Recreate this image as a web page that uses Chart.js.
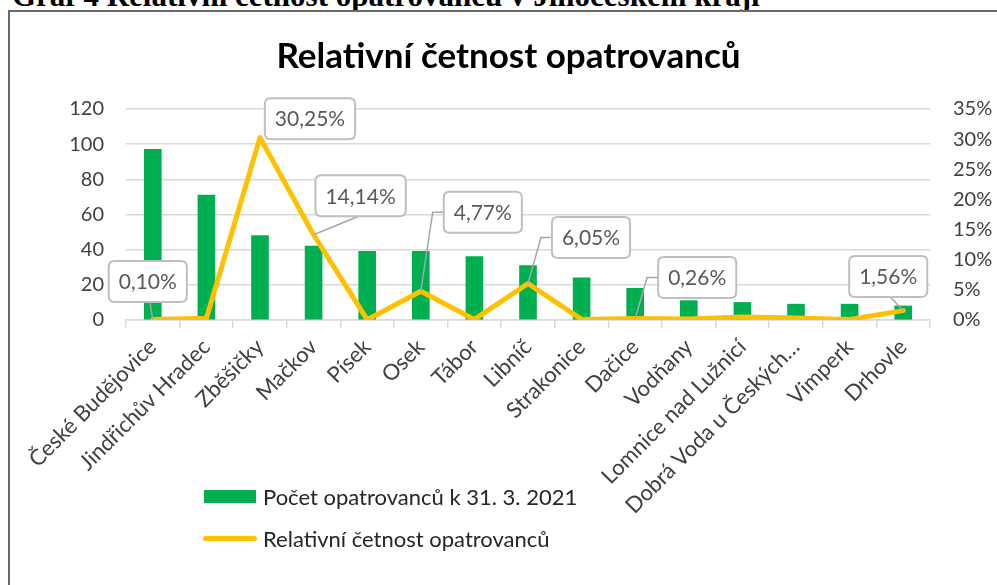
<!DOCTYPE html>
<html lang="cs">
<head>
<meta charset="utf-8">
<script src="https://cdn.jsdelivr.net/npm/chart.js@4.4.1/dist/chart.umd.min.js"></script>
<style>
    html, body { margin: 0; padding: 0; background: #fff; }
    #wrap { position: relative; width: 997px; height: 585px; overflow: hidden; }
    #caption {
        position: absolute; left: 12px; top: -22px; white-space: nowrap; line-height: normal;
        font: bold 31px "Liberation Serif", "DejaVu Serif", serif; color: #000;
    }
    #frame {
        position: absolute; left: 8px; top: 10px; width: 1100px; height: 700px;
        border: 2px solid #6a6a6a; box-sizing: border-box; background: #fff;
    }
    canvas { position: absolute; left: 0; top: 0; }
    .legend { position: absolute; left: 202px; font: 22px Lato, sans-serif; color: #262626; }
    .legend .item { display: flex; align-items: center; height: 42px; }
    .legend .swatch { width: 56px; display: flex; justify-content: center; margin-right: 5px; }
    .legend .bar { width: 52px; height: 13px; background: #00b050; }
    .legend .line { width: 54px; height: 5px; border-radius: 3px; background: #ffc000; }
</style>
</head>
<body>
<div id="wrap">
    <div id="caption">Graf 4 Relativní četnost opatrovanců v Jihočeském kraji</div>
    <div id="frame"></div>
    <canvas id="chart" width="997" height="585"></canvas>
    <div class="legend" style="top: 475px;">
        <div class="item"><div class="swatch"><div class="bar"></div></div><span id="lg0"></span></div>
        <div class="item"><div class="swatch"><div class="line"></div></div><span id="lg1"></span></div>
    </div>
</div>
<script>
// Categories (municipalities)
const towns = [
    'České Budějovice', 'Jindřichův Hradec', 'Zběšičky', 'Mačkov', 'Písek', 'Osek', 'Tábor',
    'Libníč', 'Strakonice', 'Dačice', 'Vodňany', 'Lomnice nad Lužnicí',
    'Dobrá Voda u Českých…', 'Vimperk', 'Drhovle'
];

// Number of wards at 31. 3. 2021 (left axis)
const wardCounts = [97, 71, 48, 42, 39, 39, 36, 31, 24, 18, 11, 10, 9, 9, 8];

// Relative frequency in % (right axis)
const relFreq = [0.10, 0.30, 30.25, 14.14, 0.05, 4.77, 0.10, 6.05, 0.10, 0.26, 0.15, 0.50, 0.35, 0.10, 1.56];

// Tick values
const leftTicks = [0, 20, 40, 60, 80, 100, 120];
const rightTicks = [0, 5, 10, 15, 20, 25, 30, 35];

const seriesNames = ['Počet opatrovanců k 31. 3. 2021', 'Relativní četnost opatrovanců'];
const chartTitle = 'Relativní četnost opatrovanců';

// Which points carry a callout label
const labelledPoints = [0, 2, 3, 5, 7, 9, 14];
// callout box offset from point (dx, dy) and leader type
const calloutPlacement = [
    { dx: -5, dy: -38, leader: 'bottom' },
    { dx: 50, dy: -19, leader: 'none' },
    { dx: 47, dy: -39, leader: 'bottom' },
    { dx: 62, dy: -79, leader: 'elbow' },
    { dx: 63, dy: -46, leader: 'elbow' },
    { dx: 62, dy: -41, leader: 'elbow' },
    { dx: -15, dy: -34, leader: 'bottom' }
];

const FONT = 'Lato, "Open Sans", sans-serif';
const TEXT = '#404040';
const GRID = '#d9d9d9';

document.getElementById('lg0').textContent = seriesNames[0];
document.getElementById('lg1').textContent = seriesNames[1];

function fmtPct(v) {
    return v.toFixed(2).replace('.', ',') + '%';
}

function roundRect(ctx, x, y, w, h, r) {
    ctx.beginPath();
    ctx.moveTo(x + r, y);
    ctx.lineTo(x + w - r, y);
    ctx.quadraticCurveTo(x + w, y, x + w, y + r);
    ctx.lineTo(x + w, y + h - r);
    ctx.quadraticCurveTo(x + w, y + h, x + w - r, y + h);
    ctx.lineTo(x + r, y + h);
    ctx.quadraticCurveTo(x, y + h, x, y + h - r);
    ctx.lineTo(x, y + r);
    ctx.quadraticCurveTo(x, y, x + r, y);
    ctx.closePath();
}

/**
 * Callout labels with leader lines (Excel style)
 */
const calloutPlugin = {
    id: 'callouts',
    afterDatasetsDraw(chart) {
        const ctx = chart.ctx;
        const meta = chart.getDatasetMeta(1);
        ctx.save();
        ctx.font = '21px ' + FONT;
        labelledPoints.forEach((idx, k) => {
            const pt = meta.data[idx];
            const place = calloutPlacement[k];
            const text = fmtPct(relFreq[idx]);
            const w = ctx.measureText(text).width + 20;
            const h = 41;
            const cx = pt.x + place.dx;
            const cy = pt.y + place.dy;
            const bx = cx - w / 2;
            const by = cy - h / 2;

            // leader line
            ctx.strokeStyle = '#a6a6a6';
            ctx.lineWidth = 1.5;
            if (place.leader === 'bottom') {
                ctx.beginPath();
                ctx.moveTo(cx - (place.dx > 0 ? 2 : -2), by + h);
                ctx.lineTo(pt.x, pt.y);
                ctx.stroke();
            } else if (place.leader === 'elbow') {
                ctx.beginPath();
                ctx.moveTo(bx, cy);
                ctx.lineTo(bx - 11, cy);
                ctx.lineTo(pt.x, pt.y);
                ctx.stroke();
            }

            // box
            roundRect(ctx, bx, by, w, h, 6);
            ctx.fillStyle = '#ffffff';
            ctx.fill();
            ctx.strokeStyle = '#bfbfbf';
            ctx.lineWidth = 2;
            ctx.stroke();

            ctx.fillStyle = '#595959';
            ctx.textAlign = 'center';
            ctx.textBaseline = 'middle';
            ctx.fillText(text, cx, cy + 1);
        });
        ctx.restore();
    }
};

new Chart(document.getElementById('chart').getContext('2d'), {
    type: 'bar',
    data: {
        labels: towns,
        datasets: [{
            type: 'bar',
            label: seriesNames[0],
            data: wardCounts,
            backgroundColor: '#00b050',
            barThickness: 17,
            yAxisID: 'y',
            order: 2
        }, {
            type: 'line',
            label: seriesNames[1],
            data: relFreq,
            borderColor: '#ffc000',
            borderWidth: 5,
            borderJoinStyle: 'round',
            borderCapStyle: 'round',
            pointRadius: 0,
            tension: 0,
            fill: false,
            yAxisID: 'y1',
            order: 1
        }]
    },
    options: {
        responsive: false,
        animation: false,
        events: [],
        layout: {
            padding: { left: 20, right: 0, top: 0, bottom: 0 }
        },
        plugins: {
            legend: { display: false },
            tooltip: { enabled: false },
            title: {
                display: true,
                text: chartTitle,
                color: '#000',
                font: { family: FONT, size: 35, weight: 'bold' },
                padding: { top: 36, bottom: 31 }
            }
        },
        scales: {
            x: {
                grid: {
                    display: true,
                    drawOnChartArea: false,
                    drawTicks: true,
                    tickLength: 8,
                    offset: true,
                    color: GRID,
                    lineWidth: 1.5
                },
                border: { color: GRID, width: 1.5 },
                ticks: {
                    color: TEXT,
                    font: { family: FONT, size: 22 },
                    maxRotation: 45,
                    minRotation: 45,
                    autoSkip: false,
                    padding: 6
                },
                afterFit(scale) { scale.height = 265; }
            },
            y: {
                position: 'left',
                min: 0,
                max: 120,
                afterBuildTicks(scale) { scale.ticks = leftTicks.map(v => ({ value: v })); },
                grid: { color: GRID, lineWidth: 1.5, drawTicks: false },
                border: { display: false },
                ticks: {
                    color: TEXT,
                    font: { family: FONT, size: 20 },
                    padding: 22
                },
                afterFit(scale) { scale.width = 106; }
            },
            y1: {
                position: 'right',
                min: 0,
                max: 35,
                afterBuildTicks(scale) { scale.ticks = rightTicks.map(v => ({ value: v })); },
                grid: { display: false, drawTicks: false },
                border: { display: false },
                ticks: {
                    color: TEXT,
                    font: { family: FONT, size: 20 },
                    padding: 23,
                    callback: v => v + '%'
                },
                afterFit(scale) { scale.width = 67; }
            }
        }
    },
    plugins: [calloutPlugin]
});
</script>
</body>
</html>
